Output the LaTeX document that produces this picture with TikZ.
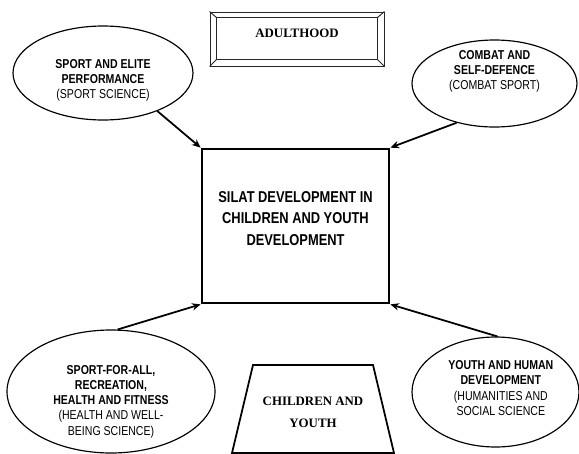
\documentclass[tikz,border=0pt]{standalone}
\usepackage{fontspec}
\setmainfont{Liberation Serif}
\newfontfamily\narrowsans[FakeStretch=0.82]{Liberation Sans}
\usepackage{tikz}
\usetikzlibrary{arrows.meta,positioning,shapes.geometric}
\tikzset{
  ovalnode/.style={ellipse, draw=black, line width=1pt, inner sep=0pt},
  ovaltext/.style={
    align=center,
    inner sep=0pt,
    font=\narrowsans\fontsize{11}{13}\selectfont
  },
  hubbox/.style={
    draw=black,
    line width=2.3pt,
    minimum width=5.61cm,
    minimum height=4.62cm
  },
  hubtext/.style={
    align=center,
    inner sep=0pt,
    font=\narrowsans\bfseries\fontsize{13.4}{18.3}\selectfont
  },
  bevelbox/.style={
    draw=black!85,
    line width=0.8pt,
    minimum width=5.22cm,
    minimum height=1.62cm
  },
  bevelline/.style={draw=black!85, line width=0.8pt},
  stagetext/.style={align=center, inner sep=0pt, font=\bfseries\fontsize{11}{18.8}\selectfont},
  stageline/.style={draw=black, line width=1.5pt, line join=miter},
  linkarrow/.style={-{Stealth[length=2.6mm,width=2.2mm]}, line width=1.5pt, draw=black}
}

\begin{document}
\begin{tikzpicture}
  \useasboundingbox (0,0) rectangle (17.37,-13.62);
  % stages
  \node[bevelbox, label={[stagetext,yshift=0.18cm]center:ADULTHOOD}] (adult) at (8.91,-1.17) {};
  \draw[bevelline] ([xshift=0.21cm,yshift=-0.18cm]adult.north west) rectangle ([xshift=-0.21cm,yshift=0.21cm]adult.south east);
  \draw[bevelline] (adult.north west) -- ++(0.21,-0.18)
                   (adult.north east) -- ++(-0.21,-0.18)
                   (adult.south west) -- ++(0.21,0.21)
                   (adult.south east) -- ++(-0.21,0.21);
  \draw[stageline] (6.96,-13.59) -- (7.59,-10.95) -- (11.19,-10.95) -- (11.82,-13.59) -- cycle;
  \node[stagetext] (youth) at (9.39,-12.36) {CHILDREN AND\\YOUTH};
  % centre
  \node[hubbox, label={[hubtext,yshift=0.225cm]center:{SILAT DEVELOPMENT IN\\CHILDREN AND YOUTH\\DEVELOPMENT}}] (hub) at (8.865,-6.78) {};
  % four areas
  \node[ovalnode, minimum width=5.4cm, minimum height=2.82cm,
    label={[ovaltext,yshift=-0.225cm]center:{{\bfseries SPORT AND ELITE}\\{\bfseries PERFORMANCE}\\(SPORT SCIENCE)}}] (elite) at (3.09,-2.19) {};
  \node[ovalnode, minimum width=4.95cm, minimum height=2.61cm,
    label={[ovaltext,yshift=0.36cm]center:{{\bfseries COMBAT AND}\\{\bfseries SELF-DEFENCE}\\(COMBAT SPORT)}}] (combat) at (14.835,-2.505) {};
  \node[ovalnode, minimum width=6.24cm, minimum height=3.69cm,
    label={[ovaltext,yshift=-0.3cm]center:{{\bfseries SPORT-FOR-ALL,}\\{\bfseries RECREATION,}\\{\bfseries HEALTH AND FITNESS}\\(HEALTH AND WELL-\\BEING SCIENCE)}}] (fitness) at (3.33,-11.745) {};
  \node[ovalnode, minimum width=5.01cm, minimum height=3.3cm,
    label={[ovaltext,xshift=0.16cm,yshift=0.12cm]center:{{\bfseries YOUTH AND HUMAN}\\{\bfseries DEVELOPMENT}\\(HUMANITIES AND\\SOCIAL SCIENCE}}] (human) at (14.865,-11.76) {};
  \draw[linkarrow] (elite.325) -- (hub.north west);
  \draw[linkarrow] (combat.226) -- (hub.north east);
  \draw[linkarrow] (fitness.84) -- (hub.south west);
  \draw[linkarrow] (human.88) -- (hub.south east);
\end{tikzpicture}
\end{document}
